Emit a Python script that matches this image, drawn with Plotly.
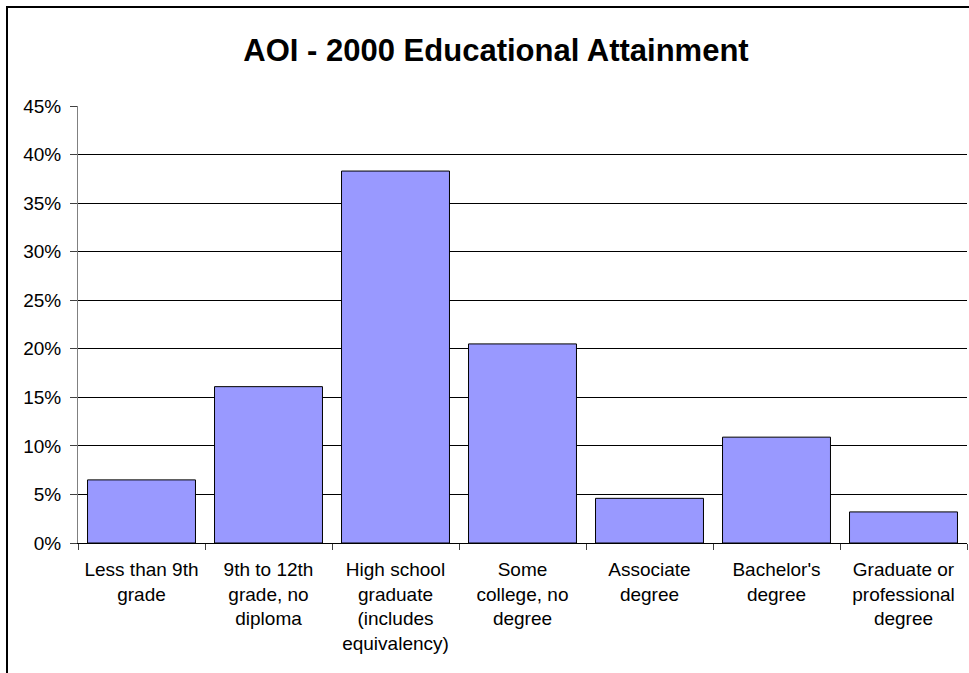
import plotly.graph_objects as go

# Educational attainment, population 25 years and over (2000)
categories = [
    "Less than 9th<br>grade",
    "9th to 12th<br>grade, no<br>diploma",
    "High school<br>graduate<br>(includes<br>equivalency)",
    "Some<br>college, no<br>degree",
    "Associate<br>degree",
    "Bachelor's<br>degree",
    "Graduate or<br>professional<br>degree",
]
shares = [0.065, 0.161, 0.383, 0.205, 0.046, 0.109, 0.032]
y_ticks = [0, 0.05, 0.10, 0.15, 0.20, 0.25, 0.30, 0.35, 0.40, 0.45]
y_tick_labels = ["0%", "5%", "10%", "15%", "20%", "25%", "30%", "35%", "40%", "45%"]

FONT = "Arial, Liberation Sans, sans-serif"

fig = go.Figure(
    go.Bar(
        x=categories,
        y=shares,
        marker=dict(color="#9999FF", line=dict(color="#000000", width=1)),
        hoverinfo="skip",
    )
)

W, H = 969, 673
L, R, T, B = 78, 2, 106, 130
plot_w = W - L - R
plot_h = H - T - B

fig.update_layout(
    width=W,
    height=H,
    margin=dict(l=L, r=R, t=T, b=B, autoexpand=False),
    paper_bgcolor="white",
    plot_bgcolor="white",
    bargap=0.15,
    showlegend=False,
    font=dict(family=FONT, size=19, color="black"),
    title=dict(
        text="<b>AOI - 2000 Educational Attainment</b>",
        font=dict(family=FONT, size=31, color="black"),
        x=496 / W,
        xref="container",
        xanchor="center",
        y=1 - 50 / H,
        yref="container",
        yanchor="middle",
    ),
    xaxis=dict(
        type="category",
        showgrid=False,
        showline=True,
        linecolor="#000000",
        linewidth=1,
        ticks="outside",
        tickson="boundaries",
        ticklen=6,
        tickcolor="#404040",
        ticklabelstandoff=9,
        tickfont=dict(family=FONT, size=19, color="black"),
        automargin=False,
    ),
    yaxis=dict(
        range=[0, 0.45],
        tickvals=y_ticks,
        ticktext=y_tick_labels,
        showgrid=True,
        gridcolor="#000000",
        gridwidth=1,
        showline=True,
        linecolor="#808080",
        linewidth=1,
        ticks="outside",
        ticklen=7,
        tickcolor="#404040",
        ticklabelstandoff=5,
        tickfont=dict(family=FONT, size=19, color="black"),
        zeroline=False,
        automargin=False,
    ),
    shapes=[
        # chart frame (left and top edges visible)
        dict(
            type="rect",
            xref="paper",
            yref="paper",
            x0=(7 - L) / plot_w,
            x1=1.2,
            y0=-0.6,
            y1=(H - B - 7) / plot_h,
            line=dict(color="black", width=2),
            fillcolor="rgba(0,0,0,0)",
            layer="above",
        )
    ],
)

fig.write_html("out.html")
